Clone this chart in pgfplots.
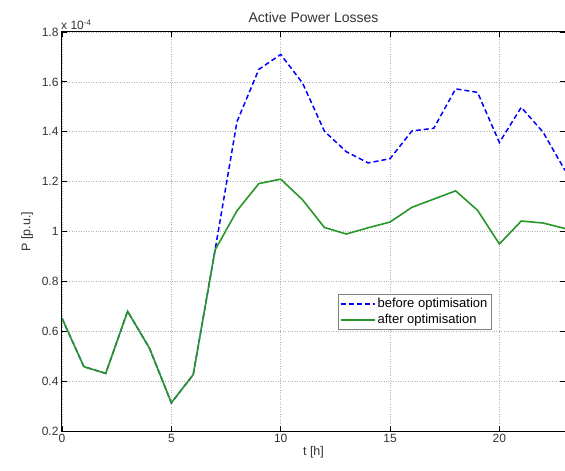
\documentclass[border=0pt]{standalone}
\usepackage{fontspec}
\setmainfont{Liberation Sans}
\usepackage{pgfplots}
\usetikzlibrary{calc}
\pgfplotsset{compat=1.18}
\definecolor{mgreen}{RGB}{40,150,40}

\begin{document}
\begin{tikzpicture}
\begin{axis}[
  name=ax,
  scale only axis,
  width=503pt, height=399pt,
  xmin=0, xmax=23, ymin=0.2, ymax=1.8,
  xtick={0,5,10,15,20},
  ytick={0.2,0.4,...,1.8},
  yticklabels={0.2,0.4,0.6,0.8,1,1.2,1.4,1.6,1.8},
  scaled y ticks=false,
  /pgf/number format/assume math mode=true,
  tick align=inside,
  major tick length=5pt,
  tick style={black, line width=0.8pt},
  axis line style={black, line width=1pt},
  grid=major,
  grid style={gray!60, dotted, line width=0.6pt},
  tick label style={font=\fontsize{12}{14}\selectfont, text=black!80},
  label style={font=\fontsize{12.5}{14}\selectfont, text=black!80},
  title style={font=\fontsize{14}{16}\selectfont, text=black!80, yshift=0pt},
  title={Active Power Losses},
  xlabel={t [h]},
  ylabel={P [p.u.]},
  xlabel style={yshift=3pt},
  ylabel style={yshift=2pt},
  legend style={at={(rel axis cs:0.548,0.343)}, anchor=north west,
    font=\fontsize{13}{16}\selectfont, draw=gray, line width=0.6pt,
    fill=white, inner sep=2pt, row sep=1pt},
  legend cell align=left,
  legend image code/.code={\draw[#1, line width=1.5pt] (0cm,0cm) -- (1.2cm,0cm);},
]
\addplot[blue, line width=1.5pt, dash pattern=on 5pt off 3pt] coordinates {
  (0,0.652)(1,0.458)(2,0.431)(3,0.680)(4,0.532)(5,0.313)(6,0.426)
  (7,0.926)(8,1.440)(9,1.650)(10,1.710)(11,1.595)(12,1.402)(13,1.320)
  (14,1.275)(15,1.292)(16,1.403)(17,1.414)(18,1.572)(19,1.558)(20,1.357)
  (21,1.498)(22,1.398)(23,1.245)};
\addlegendentry{before optimisation}
\addplot[mgreen, line width=1.6pt] coordinates {
  (0,0.652)(1,0.458)(2,0.431)(3,0.680)(4,0.532)(5,0.313)(6,0.426)
  (7,0.926)(8,1.083)(9,1.192)(10,1.210)(11,1.127)(12,1.016)(13,0.990)
  (14,1.015)(15,1.038)(16,1.097)(17,1.130)(18,1.163)(19,1.085)(20,0.950)
  (21,1.042)(22,1.034)(23,1.012)};
\addlegendentry{after optimisation}
\end{axis}
\node[anchor=south west, font=\fontsize{12}{14}\selectfont, text=black!80,
  inner sep=1pt, xshift=-2pt, yshift=1pt] at (ax.north west) {x 10\textsuperscript{-4}};
\pgfresetboundingbox
\path ($(ax.south west)+(-62pt,-40pt)$) rectangle ($(ax.north east)+(0pt,32pt)$);
\end{tikzpicture}
\end{document}
